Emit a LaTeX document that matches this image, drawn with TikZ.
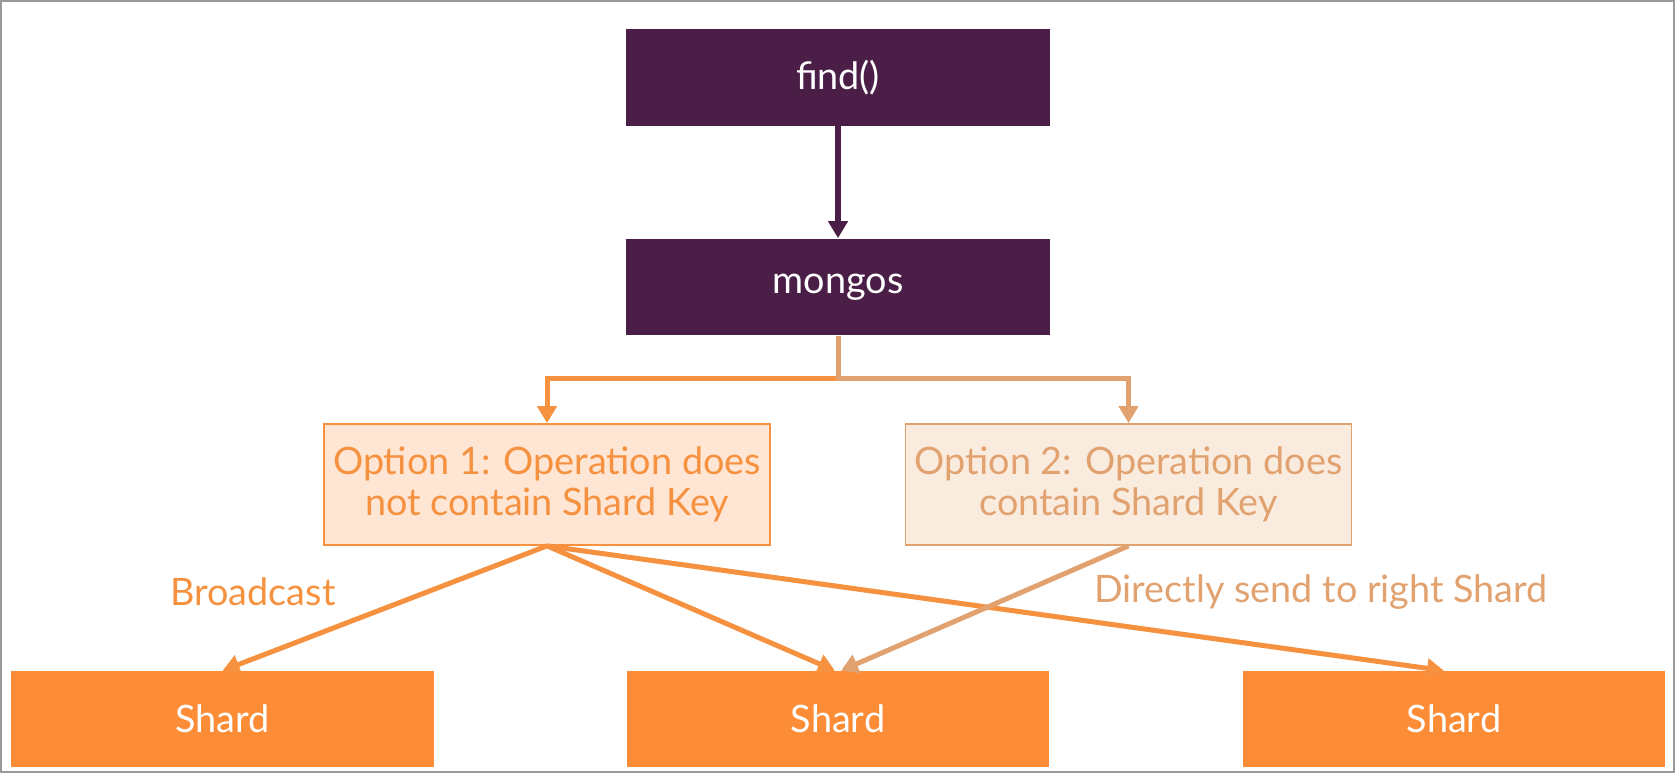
\documentclass[tikz,border=0pt]{standalone}
\usepackage{fontspec}
\setmainfont{Lato}
\usetikzlibrary{arrows.meta}
\definecolor{plum}{HTML}{4A1E47}
\definecolor{shardorange}{HTML}{FC8C35}
\definecolor{optaline}{HTML}{F5913F}
\definecolor{optafill}{HTML}{FFE5D3}
\definecolor{optbline}{HTML}{E2A270}
\definecolor{optbfill}{HTML}{FAEBDF}
\definecolor{framegray}{HTML}{9A9A9A}
\begin{document}
\begin{tikzpicture}[x=0.02cm, y=-0.02cm,
	boxtext/.style={font=\fontsize{21.5}{23.5}\selectfont, inner sep=0pt},
	purplebox/.style={boxtext, fill=plum, text=white, minimum width=8.48cm, minimum height=1.94cm},
	optionbox/.style={boxtext, align=center, minimum width=8.92cm, minimum height=2.42cm, line width=1pt},
	shardbox/.style={boxtext, fill=shardorange, text=white, minimum width=8.46cm, minimum height=1.92cm},
	link/.style={line width=0.1cm, -{Triangle[length=0.34cm, width=0.38cm]}}]
	% Fix the frame
	\useasboundingbox (0,0) rectangle (1675,773);
	\draw[framegray, line width=0.05cm] (1,1) rectangle (1674,772);
	% Define the boxes
	\node[purplebox] (find) at (838,77.5) {find()};
	\node[purplebox] (mongos) at (838,287) {mongos};
	\node[optionbox, draw=optaline, fill=optafill, text=optaline] (opt1) at (547,484.5) {Option 1: Operation does\\not contain Shard Key};
	\node[optionbox, draw=optbline, fill=optbfill, text=optbline] (opt2) at (1128.5,484.5) {Option 2: Operation does\\contain Shard Key};
	\node[shardbox] (shard1) at (222.5,719) {Shard};
	\node[shardbox] (shard2) at (838,719) {Shard};
	\node[shardbox] (shard3) at (1454,719) {Shard};
	\coordinate (split) at (838,378);
	% Draw the edges
	\draw[link, plum, line width=0.12cm] (find) -- (mongos);
	\draw[link, optaline] (split) -| (opt1.north);
	\draw[link, optbline] (mongos.south) -- (split) -| (opt2.north);
	\draw[link, optaline] (opt1.south) -- (shard1.north);
	\draw[link, optaline] (opt1.south) -- ([xshift=-0.06cm]shard2.north);
	\draw[link, optaline] (opt1.south) -- ([xshift=-0.2cm]shard3.north);
	\draw[link, optbline] (opt2.south) -- ([xshift=0.06cm]shard2.north);
	% Add labels
	\node[boxtext, text=optaline] (bcast) at (253,592) {Broadcast};
	\node[boxtext, text=optbline] (direct) at (1321,592) {Directly send to right Shard};
\end{tikzpicture}
\end{document}
